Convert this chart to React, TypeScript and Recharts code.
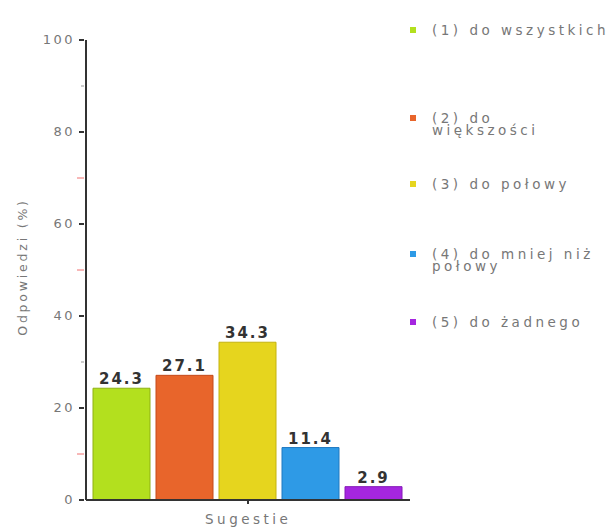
import React from 'react';
import { BarChart, Bar, XAxis, YAxis, LabelList } from 'recharts';

const categories = ['Sugestie'];
const seriesKeys = ['s1', 's2', 's3', 's4', 's5'];
const seriesNames = ['(1) do wszystkich', '(2) do większości', '(3) do połowy', '(4) do mniej niż połowy', '(5) do żadnego'];
const seriesValues = [24.3, 27.1, 34.3, 11.4, 2.9];
const seriesColors = ['#b3e01e', '#e8652b', '#e6d51e', '#2e9ae6', '#a526e0'];
const seriesStrokes = ['#8fb012', '#c44a1a', '#c4b30e', '#1f78c0', '#8418b8'];
const yTicks = [0, 10, 20, 30, 40, 50, 60, 70, 80, 90, 100];
const redMinor = [10, 50, 70];

const FONT = '"DejaVu Sans", Verdana, sans-serif';

// one row, one bar per answer
const data = categories.map((c) => {
  const row: Record<string, any> = { name: c };
  seriesKeys.forEach((k, i) => { row[k] = seriesValues[i]; });
  return row;
});

// vertical spacing between legend entries (px)
const legendGaps = [0, 76, 42, 58, 44];

const YTick = (props: any) => {
  const { x, y, payload } = props;
  const v = payload.value;
  if (v % 20 === 0) {
    return (
      <g>
        <line x1={x + 1} x2={x + 6} y1={y} y2={y} stroke="#333" strokeWidth={2} />
        <text x={x - 3} y={y} dy={4} textAnchor="end" fill="#777" fontSize={13} letterSpacing={2.5} fontFamily={FONT}>{v}</text>
      </g>
    );
  }
  const red = redMinor.includes(v);
  return (
    <line x1={red ? x - 1 : x + 3} x2={x + 6} y1={y} y2={y} stroke={red ? '#f07070' : '#999'} strokeWidth={1} />
  );
};

const ChartLegend = () => (
  <div style={{ position: 'absolute', left: 410, top: 24, fontFamily: FONT, fontSize: 13.5, color: '#777', letterSpacing: 3.5 }}>
    {seriesNames.map((n, i) => (
      <div key={n} style={{ display: 'flex', alignItems: 'flex-start', marginTop: legendGaps[i] }}>
        <span style={{ width: 6, height: 6, background: seriesColors[i], marginTop: 3, marginRight: 16, flex: 'none' }} />
        <span style={{ width: 170, lineHeight: '12px', whiteSpace: i === 0 ? 'nowrap' : 'normal' }}>{n}</span>
      </div>
    ))}
  </div>
);

export default function App() {
  return (
    <div style={{ position: 'absolute', left: 0, top: 0, width: 614, height: 530, background: '#fff', overflow: 'hidden' }}>
      <BarChart width={614} height={530} data={data} margin={{ top: 40, right: 204, bottom: 0, left: 26 }} barCategoryGap={7} barGap={6}>
        <XAxis dataKey="name" stroke="#333" strokeWidth={2} height={30} tickSize={4} tickFormatter={() => ''} tickLine={{ stroke: '#333' }} />
        <YAxis domain={[0, 100]} ticks={yTicks} interval={0} stroke="#333" strokeWidth={2} tickLine={false} tick={<YTick />} width={60} />
        {seriesKeys.map((k, i) => (
          <Bar key={k} dataKey={k} name={seriesNames[i]} fill={seriesColors[i]} stroke={seriesStrokes[i]} strokeWidth={1} isAnimationActive={false}>
            <LabelList dataKey={k} position="top" offset={4} fill="#333" fontSize={15} fontWeight="bold" letterSpacing={2} fontFamily={FONT} />
          </Bar>
        ))}
      </BarChart>
      <ChartLegend />
      <div style={{ position: 'absolute', left: 205, top: 511, fontFamily: FONT, fontSize: 13.5, color: '#777', letterSpacing: 3.5 }}>Sugestie</div>
      <div style={{ position: 'absolute', left: 22, top: 267, transform: 'translate(-50%, -50%) rotate(-90deg)', whiteSpace: 'nowrap', fontFamily: FONT, fontSize: 12.5, color: '#777', letterSpacing: 2.8 }}>Odpowiedzi (%)</div>
    </div>
  );
}
